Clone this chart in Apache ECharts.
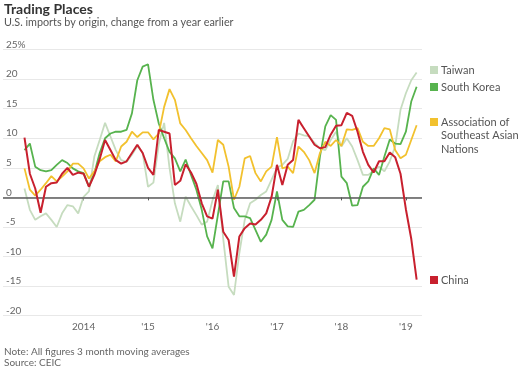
<!DOCTYPE html>
<html>
<head>
<meta charset="utf-8">
<script src="https://cdn.jsdelivr.net/npm/echarts@6/dist/echarts.min.js"></script>
<style>
html,body{margin:0;padding:0;background:#fff;}
#c{width:523px;height:373px;}
</style>
</head>
<body>
<div id="c"></div>
<script>
// Month categories (axis padded before first and after last data point)
const months = ['2012-10','2012-11','2012-12',
 '2013-01','2013-02','2013-03','2013-04','2013-05','2013-06','2013-07','2013-08','2013-09','2013-10','2013-11','2013-12',
 '2014-01','2014-02','2014-03','2014-04','2014-05','2014-06','2014-07','2014-08','2014-09','2014-10','2014-11','2014-12',
 '2015-01','2015-02','2015-03','2015-04','2015-05','2015-06','2015-07','2015-08','2015-09','2015-10','2015-11','2015-12',
 '2016-01','2016-02','2016-03','2016-04','2016-05','2016-06','2016-07','2016-08','2016-09','2016-10','2016-11','2016-12',
 '2017-01','2017-02','2017-03','2017-04','2017-05','2017-06','2017-07','2017-08','2017-09','2017-10','2017-11','2017-12',
 '2018-01','2018-02','2018-03','2018-04','2018-05','2018-06','2018-07','2018-08','2018-09','2018-10','2018-11','2018-12',
 '2019-01','2019-02','2019-03','2019-04'];
const firstMonth = '2013-02';   // first data month (Feb 2013 .. Mar 2019)

const yearTickLabels = {'2014-01':'2014','2015-01':"'15",'2016-01':"'16",'2017-01':"'17",'2018-01':"'18",'2019-01':"'19"};
const yTickLabels = {'25':'25%','20':'20','15':'15','10':'10','5':'5','0':'0','-5':'-5','-10':'-10','-15':'-15','-20':'-20'};

const taiwan = [1.5,-2.1,-3.8,-3.2,-2.7,-3.8,-5.0,-2.7,-1.3,-1.5,
 -2.7,0.1,1.0,6.9,9.7,12.6,10.3,8.0,6.3,6.0,
 7.2,8.7,7.5,1.8,2.5,9.0,12.6,5.0,-1.0,-4.1,
 0.1,-1.5,-3.0,-4.6,-4.1,-0.5,2.1,-7.0,-15.1,-16.5,
 -9.4,-3.8,-1.0,-0.4,0.4,1.0,3.0,5.0,5.5,6.5,
 9.5,10.8,10.5,10.3,9.2,8.3,8.0,9.7,11.1,8.6,
 10.0,8.6,6.3,3.8,3.8,4.5,5.2,4.4,6.1,8.6,
 14.8,17.6,19.8,21.1];
const southKorea = [8.0,9.1,5.2,4.6,4.4,4.6,5.5,6.3,5.8,4.9,
 4.4,4.1,1.8,4.1,7.5,10.0,10.8,11.1,11.1,11.4,
 14.2,19.8,22.1,22.5,16.5,12.5,10.0,7.7,6.6,4.4,
 6.4,3.8,1.3,-2.1,-6.6,-8.6,-3.0,2.7,2.7,-1.8,
 -3.2,-3.2,-3.5,-5.5,-7.5,-6.3,-3.8,1.0,-3.8,-4.9,
 -5.0,-2.4,-2.1,-1.3,-0.4,6.9,12.0,13.9,13.1,3.5,
 2.4,-1.4,-1.3,1.8,2.7,4.9,3.8,6.9,9.8,9.1,
 9.0,11.1,16.2,18.7];
const asean = [4.9,1.3,0.3,1.3,2.4,3.6,2.7,3.5,4.4,5.7,
 5.7,4.9,3.2,4.4,6.1,6.8,7.2,6.1,8.6,9.4,
 11.1,10.2,11.0,11.0,9.8,10.8,15.3,18.3,16.5,12.5,
 11.4,10.0,8.7,7.5,6.3,4.2,9.7,8.9,5.2,-0.4,
 1.8,6.6,7.0,4.1,2.7,4.4,5.2,10.2,4.9,5.2,
 4.1,8.6,7.7,6.3,4.1,7.5,9.4,8.7,9.7,8.7,
 11.5,11.4,11.7,9.4,8.7,8.7,10.0,11.7,11.5,8.0,
 6.6,7.2,9.7,12.2];
const china = [10.1,4.0,1.5,-2.6,1.8,2.4,2.5,4.0,5.0,3.8,
 4.2,4.0,1.8,3.8,6.5,9.7,8.0,6.3,5.7,6.1,
 7.5,8.9,7.5,5.0,3.8,11.4,11.1,10.8,2.1,2.8,
 5.6,4.2,2.3,-1.0,-3.2,-3.6,1.3,-5.8,-7.2,-13.4,
 -6.6,-5.2,-4.4,-4.6,-3.8,-2.7,0.1,5.5,2.1,5.5,
 6.3,13.1,11.7,10.3,8.9,8.3,8.5,10.6,12.1,12.2,
 14.3,13.8,11.1,7.7,5.5,4.2,6.1,6.1,7.6,6.8,
 4.0,-2.0,-7.0,-13.9];

const seriesNames = ['Taiwan','South Korea','Association of\nSoutheast Asian\nNations','China'];
const colors = {taiwan:'#c6dcbf', korea:'#57b34e', asean:'#f2c12e', china:'#c8202e'};

const offset = months.indexOf(firstMonth);
function pad(arr){
  const out = new Array(months.length).fill(null);
  arr.forEach((v,i)=>{ out[offset+i] = v; });
  return out;
}

const FONT = 'Lato';
const chart = echarts.init(document.getElementById('c'), null, {renderer:'canvas'});

function lineSeries(name, data, color, width, z){
  return {
    name, type:'line', data:pad(data), symbol:'none', smooth:false,
    lineStyle:{color, width}, itemStyle:{color}, z, connectNulls:false,
    animation:false, silent:true
  };
}

const zeroSeries = lineSeries('zero', [], '#555', 1, 1);
zeroSeries.markLine = {
  silent:true, symbol:['none','none'], label:{show:false},
  lineStyle:{color:'#5a5a5a', width:1.5, type:'solid'},
  data:[{yAxis:0}], animation:false
};

const legendItems = [
  {text:seriesNames[0], color:colors.taiwan, y:66},
  {text:seriesNames[1], color:colors.korea, y:83},
  {text:seriesNames[2], color:colors.asean, y:118},
  {text:seriesNames[3], color:colors.china, y:276}
];
const graphics = [];
legendItems.forEach(it=>{
  graphics.push({type:'rect', left:430, top:it.y, shape:{width:8,height:8}, style:{fill:it.color}, silent:true});
  graphics.push({type:'text', left:441, top:it.y-2.5, style:{text:it.text, fill:'#555', font:'11px '+FONT, lineHeight:13.5}, silent:true});
});
graphics.push({type:'text', left:4, top:2, style:{text:'Trading Places', fill:'#333', font:'bold 14px '+FONT}});
graphics.push({type:'text', left:4, top:17, style:{text:'U.S. imports by origin, change from a year earlier', fill:'#555', font:'10.8px '+FONT}});
graphics.push({type:'text', left:4, top:347, style:{text:'Note: All figures 3 month moving averages', fill:'#666', font:'10px '+FONT}});
graphics.push({type:'text', left:4, top:358, style:{text:'Source: CEIC', fill:'#666', font:'10px '+FONT}});

chart.setOption({
  animation:false,
  backgroundColor:'#fff',
  grid:{left:3, right:101, top:49.5, bottom:57.3, containLabel:false},
  xAxis:{
    type:'category', data:months, boundaryGap:false,
    axisLine:{show:false},
    axisTick:{show:true, length:3, lineStyle:{color:'#555', width:1},
      interval:(i,v)=> yearTickLabels[v]!==undefined},
    axisLabel:{show:true, margin:6, color:'#666', fontSize:10, fontFamily:FONT,
      interval:(i,v)=> yearTickLabels[v]!==undefined,
      formatter:(v)=> yearTickLabels[v] || ''},
    splitLine:{show:false}
  },
  yAxis:{
    type:'value', min:-20, max:25, interval:5,
    axisLine:{show:false}, axisTick:{show:false},
    axisLabel:{inside:true, margin:3, verticalAlign:'bottom', color:'#666', fontSize:10, fontFamily:FONT,
      formatter:(v)=> yTickLabels[String(v)]},
    splitLine:{show:true, lineStyle:{color:'#e8e8e8', width:1}}
  },
  series:[
    zeroSeries,
    lineSeries(seriesNames[0], taiwan, colors.taiwan, 1.8, 2),
    lineSeries(seriesNames[1], southKorea, colors.korea, 1.8, 3),
    lineSeries(seriesNames[2], asean, colors.asean, 1.8, 4),
    lineSeries(seriesNames[3], china, colors.china, 2, 5)
  ],
  graphic:graphics
});
</script>
</body>
</html>
